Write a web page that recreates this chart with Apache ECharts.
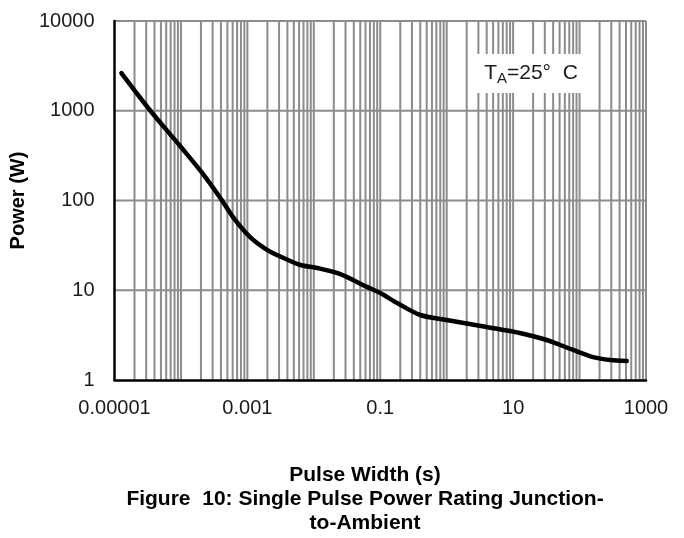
<!DOCTYPE html>
<html>
<head>
<meta charset="utf-8">
<script src="https://cdn.jsdelivr.net/npm/echarts@6/dist/echarts.min.js"></script>
<style>
html,body{margin:0;padding:0;background:#fff;}
#chart{width:684px;height:538px;}
</style>
</head>
<body>
<div id="chart"></div>
<script>
// Pulse width (s) and single-pulse power (W)
var pulseWidth = [1.27e-5, 3.47e-5, 1e-4, 2.03e-4, 3.8e-4, 6.2e-4, 1.1e-3, 2e-3, 3.5e-3, 6.3e-3, 0.0113, 0.024, 0.063, 0.1, 0.18, 0.4, 1, 4, 12.6, 32, 80, 160, 288, 513];
var power      = [2630,    1000,    394,  208,     110,    64,     39,     28,   22.9,   19.1,   17.7,   15.3,  10.9,  9.3, 7.2,  5.3, 4.67, 3.9, 3.34, 2.79, 2.16, 1.80, 1.67, 1.63];
var xDecades = [-5, -4, -3, -2, -1, 0, 1, 2];
var xLabelExps = [-5, -3, -1, 1, 3];
var yTicks = [1, 10, 100, 1000, 10000];

var FONT = 'Liberation Sans, Arial, sans-serif';
var GRID_COLOR = '#8c8c8c';
var X_MIN = 1e-5, X_MAX = 1000, Y_MIN = 1, Y_MAX = 10000;

// grid line values: vertical at every 1..9 x 10^k (plus right border), horizontal at decades
var gridLines = [];
xDecades.forEach(function (e) {
  for (var m = 1; m <= 9; m++) {
    if (e === -5 && m === 1) continue;
    gridLines.push([0, m * Math.pow(10, e)]);
  }
});
gridLines.push([0, X_MAX]);
yTicks.slice(1).forEach(function (v) { gridLines.push([1, v]); });

function fmtX(v) {
  var e = Math.round(Math.log10(v));
  if (xLabelExps.indexOf(e) < 0) return '';
  return e < 0 ? Math.pow(10, e).toFixed(-e) : String(Math.round(Math.pow(10, e)));
}

var chart = echarts.init(document.getElementById('chart'));
chart.setOption({
  animation: false,
  backgroundColor: '#fff',
  grid: { left: 114, top: 21, right: 38, bottom: 158, containLabel: false },
  xAxis: {
    type: 'log', logBase: 10, min: X_MIN, max: X_MAX, interval: 1, z: 4,
    axisLine: { show: true, lineStyle: { color: '#000', width: 2.5 } },
    axisTick: { show: false },
    splitLine: { show: false },
    axisLabel: { margin: 18, fontFamily: FONT, fontSize: 20, color: '#1a1a1a', formatter: fmtX, showMinLabel: true, showMaxLabel: true }
  },
  yAxis: {
    type: 'log', logBase: 10, min: Y_MIN, max: Y_MAX, interval: 1, z: 4,
    name: 'Power (W)', nameLocation: 'middle', nameGap: 82,
    nameTextStyle: { fontFamily: FONT, fontSize: 20, fontWeight: 'bold', color: '#000' },
    axisLine: { show: true, lineStyle: { color: '#000', width: 2.5 } },
    axisTick: { show: false },
    splitLine: { show: false },
    axisLabel: { margin: 20, fontFamily: FONT, fontSize: 20, color: '#1a1a1a',
      formatter: function (v) { return String(Math.round(v)); } }
  },
  series: [
    {
      type: 'custom', z: 1, silent: true,
      data: gridLines,
      encode: { x: -1, y: -1 },
      renderItem: function (params, api) {
        var kind = api.value(0), v = api.value(1);
        var p1, p2;
        if (kind === 0) { p1 = api.coord([v, Y_MIN]); p2 = api.coord([v, Y_MAX]); }
        else { p1 = api.coord([X_MIN, v]); p2 = api.coord([X_MAX, v]); }
        return { type: 'line', shape: { x1: p1[0], y1: p1[1], x2: p2[0], y2: p2[1] },
          style: { stroke: GRID_COLOR, lineWidth: 2 } };
      }
    },
    {
      type: 'line', z: 3,
      data: pulseWidth.map(function (x, i) { return [x, power[i]]; }),
      smooth: 0.3, showSymbol: false, symbol: 'none',
      lineStyle: { color: '#000', width: 4.5, cap: 'round', join: 'round' }
    }
  ],
  graphic: [
    { type: 'rect', z: 10, shape: { x: 477, y: 54, width: 105, height: 39 }, style: { fill: '#fff' } },
    { type: 'text', z: 11, x: 531, y: 73,
      style: {
        text: '{m|T}{s|A}{m|=25°  C}', align: 'center', verticalAlign: 'middle',
        rich: {
          m: { fontFamily: FONT, fontSize: 21, fill: '#1a1a1a' },
          s: { fontFamily: FONT, fontSize: 15, fill: '#1a1a1a', padding: [12, 0, 0, 0] }
        }
      } },
    { type: 'text', x: 365, y: 475, style: { text: 'Pulse Width (s)', align: 'center', verticalAlign: 'middle', fontFamily: FONT, fontSize: 21, fontWeight: 'bold', fill: '#000' } },
    { type: 'text', x: 365, y: 499, style: { text: 'Figure  10: Single Pulse Power Rating Junction-', align: 'center', verticalAlign: 'middle', fontFamily: FONT, fontSize: 21, fontWeight: 'bold', fill: '#000' } },
    { type: 'text', x: 365, y: 523, style: { text: 'to-Ambient', align: 'center', verticalAlign: 'middle', fontFamily: FONT, fontSize: 21, fontWeight: 'bold', fill: '#000' } }
  ]
});
</script>
</body>
</html>
